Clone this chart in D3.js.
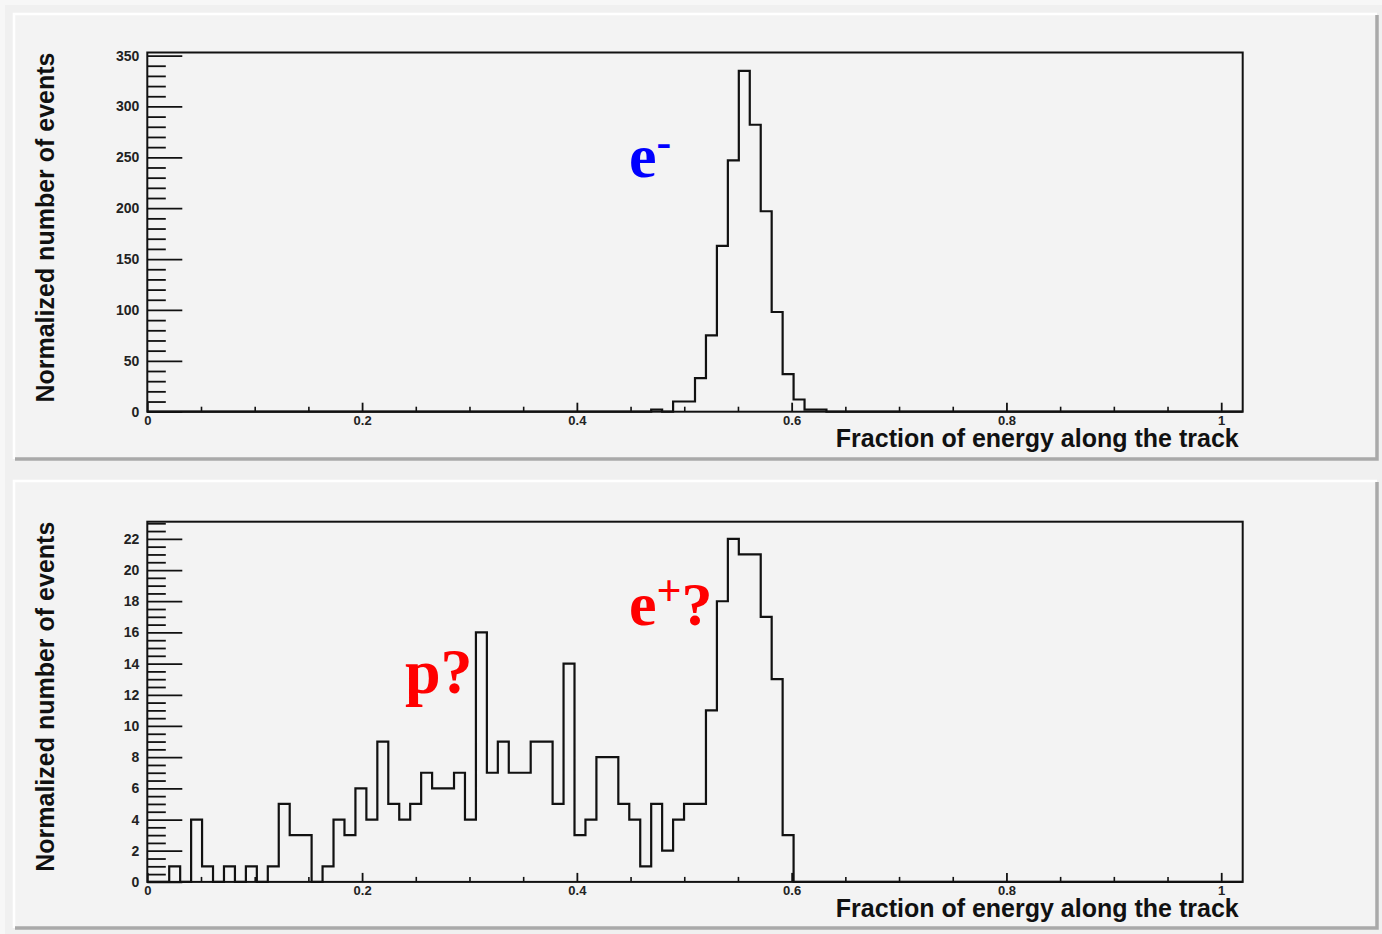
<!DOCTYPE html>
<html>
<head>
<meta charset="utf-8">
<script src="https://cdn.jsdelivr.net/npm/d3@7"></script>
<style>
  html, body { margin: 0; padding: 0; background: #f7f7f7; }
  svg { display: block; }
  .tick text { font-family: "Liberation Sans", Arial, Helvetica, sans-serif; font-weight: bold; font-size: 14px; fill: #222; }
  .xlab .tick text { font-size: 13px; }
  .axis-title { font-family: "Liberation Sans", Arial, Helvetica, sans-serif; font-weight: bold; font-size: 25px; fill: #111; }
  .tag { font-family: "Liberation Serif", "Times New Roman", serif; font-weight: bold; }
</style>
</head>
<body>
<svg id="chart" width="1382" height="934"></svg>
<script>
// Histogram binning: 100 bins over [0, 1.02]
const X_MIN = 0, X_MAX = 1.02, N_BINS = 100;
const BIN_W = (X_MAX - X_MIN) / N_BINS;

// Electron sample, counts per bin (bins 0..99)
const electronCounts = [
  0,0,0,0,0,0,0,0,0,0,
  0,0,0,0,0,0,0,0,0,0,
  0,0,0,0,0,0,0,0,0,0,
  0,0,0,0,0,0,0,0,0,0,
  0,0,0,0,0,0,2,0,10,10,
  33,75,163,247,335,282,197,98,37,12,
  2,2,0,0,0,0,0,0,0,0,
  0,0,0,0,0,0,0,0,0,0,
  0,0,0,0,0,0,0,0,0,0,
  0,0,0,0,0,0,0,0,0,0
];

// Positive-beam sample, counts per bin (bins 0..99)
const positiveCounts = [
  0,0,1,0,4,1,0,1,0,1,
  0,1,5,3,3,0,1,4,3,6,
  4,9,5,4,5,7,6,6,7,4,
  16,7,9,7,7,9,9,5,14,3,
  4,8,8,5,4,1,5,2,4,5,
  5,11,18,22,21,21,17,13,3,0,
  0,0,0,0,0,0,0,0,0,0,
  0,0,0,0,0,0,0,0,0,0,
  0,0,0,0,0,0,0,0,0,0,
  0,0,0,0,0,0,0,0,0,0
];

// Axis ticks
const xMajorTicks = [0, 0.2, 0.4, 0.6, 0.8, 1];
const xMinorTicks = [0.05,0.1,0.15,0.25,0.3,0.35,0.45,0.5,0.55,0.65,0.7,0.75,0.85,0.9,0.95];
const xTickLabels = ["0", "0.2", "0.4", "0.6", "0.8", "1"];

const topYMajor = [0, 50, 100, 150, 200, 250, 300, 350];
const topYLabels = ["0", "50", "100", "150", "200", "250", "300", "350"];
const topYMax = 353;

const botYMajor = [0, 2, 4, 6, 8, 10, 12, 14, 16, 18, 20, 22];
const botYLabels = ["0", "2", "4", "6", "8", "10", "12", "14", "16", "18", "20", "22"];
const botYMax = 23.1;

const xTitle = "Fraction of energy along the track";
const yTitle = "Normalized number of events";

const svg = d3.select("#chart");

// Canvas background
svg.append("rect").attr("x", 5).attr("y", 5).attr("width", 1377).attr("height", 929).attr("fill", "#f0f0f0");

function drawPad(cfg) {
  const g = svg.append("g");
  const { px, py, pw, ph } = cfg;
  // pad body with bevel
  g.append("rect").attr("x", px).attr("y", py).attr("width", pw).attr("height", ph).attr("fill", "#f3f3f3");
  g.append("path").attr("d", `M${px},${py + ph} V${py} H${px + pw}`).attr("fill", "none").attr("stroke", "#ffffff").attr("stroke-width", 2.5);
  g.append("path").attr("d", `M${px + 1},${py + ph} H${px + pw} V${py + 1}`).attr("fill", "none").attr("stroke", "#a9a9a9").attr("stroke-width", 3.5);

  const x = d3.scaleLinear().domain([X_MIN, X_MAX]).range([cfg.left, cfg.right]);
  const y = d3.scaleLinear().domain([0, cfg.yMax]).range([cfg.bottom, cfg.top]);

  // x axis: minor then major ticks, pointing inward
  g.append("g").attr("transform", `translate(0,${cfg.bottom})`)
    .call(d3.axisBottom(x).tickValues(xMinorTicks).tickSize(-5).tickFormat(""))
    .call(a => a.select(".domain").remove())
    .call(a => a.selectAll("line").attr("stroke", "#111").attr("stroke-width", 1.6));
  g.append("g").attr("class", "xlab").attr("transform", `translate(0,${cfg.bottom})`)
    .call(d3.axisBottom(x).tickValues(xMajorTicks).tickSize(-9).tickPadding(4)
      .tickFormat((d, i) => xTickLabels[i]))
    .call(a => a.select(".domain").remove())
    .call(a => a.selectAll("line").attr("stroke", "#111").attr("stroke-width", 1.8));

  // y axis
  g.append("g").attr("transform", `translate(${cfg.left},0)`)
    .call(d3.axisLeft(y).tickValues(cfg.yMinor).tickSize(-18.5).tickFormat(""))
    .call(a => a.select(".domain").remove())
    .call(a => a.selectAll("line").attr("stroke", "#111").attr("stroke-width", 1.8));
  g.append("g").attr("transform", `translate(${cfg.left},0)`)
    .call(d3.axisLeft(y).tickValues(cfg.yMajor).tickSize(-35).tickPadding(8)
      .tickFormat((d, i) => cfg.yLabels[i]))
    .call(a => a.select(".domain").remove())
    .call(a => a.selectAll("line").attr("stroke", "#111").attr("stroke-width", 1.8));

  // histogram outline
  const pts = [[X_MIN, 0]];
  cfg.counts.forEach((v, i) => {
    pts.push([X_MIN + i * BIN_W, v]);
    pts.push([X_MIN + (i + 1) * BIN_W, v]);
  });
  pts.push([X_MAX, 0]);
  g.append("path")
    .attr("d", d3.line().x(d => x(d[0])).y(d => y(d[1]))(pts))
    .attr("fill", "none").attr("stroke", "#111").attr("stroke-width", 2.2)
    .attr("stroke-linejoin", "miter");

  // frame
  g.append("rect").attr("x", cfg.left).attr("y", cfg.top)
    .attr("width", cfg.right - cfg.left).attr("height", cfg.bottom - cfg.top)
    .attr("fill", "none").attr("stroke", "#111").attr("stroke-width", 2);

  // titles
  g.append("text").attr("class", "axis-title")
    .attr("x", cfg.right - 4).attr("y", cfg.bottom + 35.5)
    .attr("text-anchor", "end").text(xTitle);
  g.append("text").attr("class", "axis-title")
    .attr("transform", `translate(54,${cfg.top}) rotate(-90)`)
    .attr("text-anchor", "end").text(yTitle);

  return { g, x, y };
}

// minor tick values for y axes
const topYMinor = [];
for (let v = 10; v <= 350; v += 10) if (v % 50) topYMinor.push(v);
const botYMinor = [];
for (let v = 0.5; v <= 23; v += 0.5) if (v % 2) botYMinor.push(v);

const p1 = drawPad({
  px: 14, py: 14, pw: 1363, ph: 445,
  left: 147.3, right: 1242.7, top: 52.5, bottom: 411.7,
  yMax: topYMax, yMajor: topYMajor, yLabels: topYLabels, yMinor: topYMinor,
  counts: electronCounts
});

const p2 = drawPad({
  px: 14, py: 481, pw: 1363, ph: 447,
  left: 147.3, right: 1242.7, top: 521.7, bottom: 881.9,
  yMax: botYMax, yMajor: botYMajor, yLabels: botYLabels, yMinor: botYMinor,
  counts: positiveCounts
});

// particle tags
const eMinus = p1.g.append("text").attr("class", "tag").attr("x", 629).attr("y", 177)
  .attr("font-size", 62).attr("fill", "#0000ff");
eMinus.append("tspan").text("e");
eMinus.append("tspan").attr("font-size", 44).attr("dy", -20).text("-");

const ePlus = p2.g.append("text").attr("class", "tag").attr("x", 629).attr("y", 625)
  .attr("font-size", 62).attr("fill", "#ff0000");
ePlus.append("tspan").text("e");
ePlus.append("tspan").attr("font-size", 44).attr("dy", -20).text("+");
ePlus.append("tspan").attr("dy", 20).text("?");

p2.g.append("text").attr("class", "tag").attr("x", 405).attr("y", 693)
  .attr("font-size", 64).attr("fill", "#ff0000").text("p?");
</script>
</body>
</html>
